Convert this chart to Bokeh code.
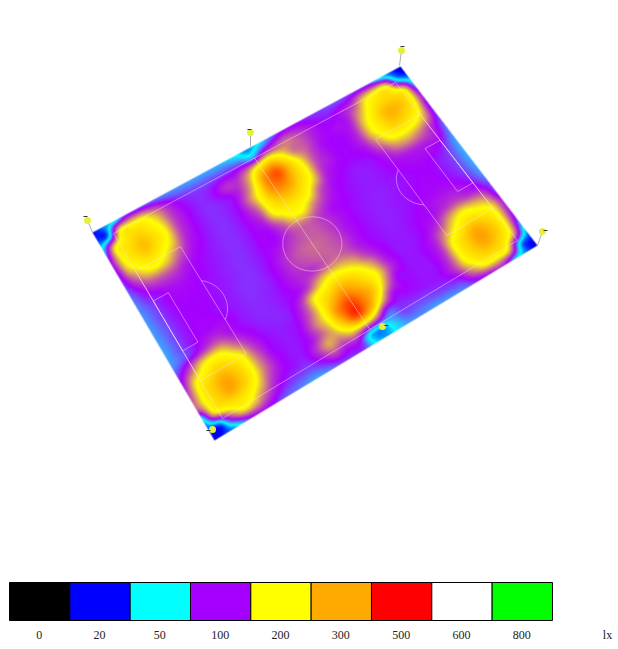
import numpy as np
from bokeh.plotting import figure
from bokeh.models import Range1d
from bokeh.core.properties import value
from bokeh.embed import file_html
from bokeh.resources import INLINE

# Illuminance (lx); rows run across the pitch, columns along it
lux_00 = [20,35,50,90,88,82,76,72,70,68,68,66,62,50,35,50,75,95,100,95,90,88,85,88,90,85,50,28,14]
lux_01 = [30,50,200,208,200,160,120,98,90,88,88,90,92,92,80,120,135,145,130,112,100,97,108,125,180,205,205,70,28]
lux_02 = [70,195,228,252,228,190,130,105,95,92,100,118,120,165,240,275,215,150,135,112,102,105,110,160,212,245,245,205,70]
lux_03 = [100,200,240,275,240,200,130,105,95,91,94,102,130,200,340,400,280,195,135,108,100,102,118,185,235,285,275,222,105]
lux_04 = [95,185,220,238,215,180,122,103,95,91,94,104,150,225,330,350,270,205,130,110,100,102,120,185,228,265,245,205,95]
lux_05 = [90,140,185,200,180,140,110,100,94,91,94,104,135,215,270,280,240,190,120,104,100,100,110,155,205,215,205,170,90]
lux_06 = [82,105,130,135,130,112,102,97,93,91,94,102,120,195,225,225,205,140,108,100,96,96,100,120,155,165,150,120,85]
lux_07 = [75,92,100,108,108,103,99,96,93,91,94,101,105,140,190,195,150,118,103,98,95,95,98,105,112,115,113,108,75]
lux_08 = [72,85,97,102,102,100,98,95,92,91,95,101,102,120,140,140,122,105,101,97,95,95,97,100,103,104,102,92,68]
lux_09 = [70,84,95,100,100,99,97,95,92,91,95,102,112,125,135,135,122,108,100,96,94,94,96,98,100,100,95,86,66]
lux_10 = [70,82,94,100,100,99,97,94,91,91,96,106,122,135,142,138,125,108,100,96,94,95,97,99,101,100,95,85,66]
lux_11 = [68,82,94,100,101,99,97,94,91,92,96,106,120,130,138,138,128,110,100,96,94,95,97,100,102,102,97,87,68]
lux_12 = [68,82,95,102,105,105,99,94,92,93,97,105,115,120,135,145,135,112,100,96,94,96,99,104,108,110,106,94,72]
lux_13 = [72,85,100,120,130,112,100,95,92,93,97,103,125,170,195,190,170,130,105,97,95,97,101,105,120,130,120,110,85]
lux_14 = [90,130,180,200,190,145,112,98,94,93,98,125,195,225,260,250,215,170,115,98,95,97,105,125,170,195,180,155,90]
lux_15 = [110,190,225,250,232,195,130,103,96,95,102,135,205,280,340,300,245,195,125,100,96,100,115,165,210,240,225,195,110]
lux_16 = [130,210,260,300,265,210,145,105,97,96,106,150,210,340,430,350,270,170,105,98,96,100,120,200,250,300,265,205,105]
lux_17 = [135,210,260,305,265,210,145,108,97,96,106,140,190,300,440,330,205,115,102,98,96,99,125,205,260,310,270,205,85]
lux_18 = [50,185,225,240,222,180,125,103,97,96,120,165,155,195,210,175,97,94,95,96,96,100,125,195,240,265,240,175,50]
lux_19 = [30,40,130,195,180,135,105,92,88,87,100,125,110,110,58,50,65,85,85,85,88,90,100,150,200,205,190,55,25]
lux_20 = [14,25,42,85,105,100,85,78,72,68,75,85,90,90,50,38,55,70,72,70,70,72,78,95,105,115,65,35,14]

legend_lux = [0, 20, 50, 100, 200, 300, 500, 600, 800]
legend_rgb = [(0,0,0),(0,0,255),(0,255,255),(165,0,255),(255,255,0),(255,170,0),(255,0,0),(255,255,255),(0,255,0)]
unit_label = "lx"

# Luminaire poles: foot of pole, lamp head
pole_foot_x = [92, 250, 399, 537]
pole_foot_y = [232, 146, 65, 245]
lamp_x = [87, 250, 401, 542, 212, 382]
lamp_y = [220, 132, 50, 231, 429, 326]
tip_x = [85, 249, 402, 545, 208, 386]
tip_y = [216, 129, 46, 230, 430, 325]

LUX = np.array([lux_00,lux_01,lux_02,lux_03,lux_04,lux_05,lux_06,lux_07,lux_08,lux_09,lux_10,
                lux_11,lux_12,lux_13,lux_14,lux_15,lux_16,lux_17,lux_18,lux_19,lux_20], dtype=float)

L, T, R, B = (92.0,232.0), (400.0,66.0), (537.0,245.0), (214.0,440.0)
PL, PT, PR, PB = (113.0,233.0), (395.0,82.0), (517.0,240.0), (222.0,418.0)
W, H = 618, 649

def quad_map(c, u, v):
    a, b, d, e = [np.array(k) for k in c]
    u = np.asarray(u, float)[..., None]; v = np.asarray(v, float)[..., None]
    return (1-u)*(1-v)*a + u*(1-v)*b + u*v*d + (1-u)*v*e

def catmull(p0, p1, p2, p3, t):
    return 0.5*((2*p1) + (-p0+p2)*t + (2*p0-5*p1+4*p2-p3)*t**2 + (-p0+3*p1-3*p2+p3)*t**3)

def shade(fu, fv):
    """Shade the read grid at fractional grid positions."""
    nr, nc = LUX.shape
    i = np.clip(np.floor(fu).astype(int), 0, nc-2); s = fu - i
    j = np.clip(np.floor(fv).astype(int), 0, nr-2); t = fv - j
    rows = []
    for dj in (-1, 0, 1, 2):
        jj = np.clip(j+dj, 0, nr-1)
        cols = [LUX[jj, np.clip(i+di, 0, nc-1)] for di in (-1, 0, 1, 2)]
        rows.append(catmull(cols[0], cols[1], cols[2], cols[3], s))
    return np.clip(catmull(rows[0], rows[1], rows[2], rows[3], t), 0, 800)

p = figure(width=W, height=H, x_range=Range1d(0, W), y_range=Range1d(H, 0),
           output_backend="svg", toolbar_location=None, min_border=0)
p.axis.visible = False
p.grid.visible = False
p.outline_line_color = None
p.background_fill_color = "white"

# Raster over the pitch: invert the corner map for every pixel, then colour by lux
x0, x1, y0, y1 = 85, 545, 60, 446
gx, gy = np.meshgrid(np.arange(x0, x1)+0.5, np.arange(y0, y1)+0.5)
u, v = np.full(gx.shape, 0.5), np.full(gx.shape, 0.5)
a, b, d, e = [np.array(k) for k in (L, T, R, B)]
for _ in range(12):
    q = quad_map((L,T,R,B), u, v)
    du = (1-v)[..., None]*(b-a) + v[..., None]*(d-e)
    dv = (1-u)[..., None]*(e-a) + u[..., None]*(d-b)
    rx, ry = gx-q[...,0], gy-q[...,1]
    det = du[...,0]*dv[...,1]-du[...,1]*dv[...,0]
    u = u + (rx*dv[...,1]-ry*dv[...,0])/det
    v = v + (du[...,0]*ry-du[...,1]*rx)/det
nr, nc = LUX.shape
val = shade(np.clip(u,0,1)*(nc-1), np.clip(v,0,1)*(nr-1))
rgba = np.zeros(gx.shape+(4,), dtype=np.uint8)
for k in range(3):
    rgba[...,k] = np.round(np.interp(val, legend_lux, [c[k] for c in legend_rgb])).astype(np.uint8)
du_px = np.minimum(u, 1-u)*340.0
dv_px = np.minimum(v, 1-v)*235.0
rgba[...,3] = (255*np.clip(np.minimum(du_px, dv_px)+0.5, 0, 1)).astype(np.uint8)
img = np.frombuffer(rgba.tobytes(), dtype=np.uint32).reshape(gx.shape)
p.image_rgba(image=[img], x=x0, y=y0, dw=x1-x0, dh=y1-y0)

# pitch markings, laid out in metres
LEN, WID = 105.0, 68.0
def m(pts):
    pts = np.array(pts, float)
    q = quad_map((PL,PT,PR,PB), pts[:,0]/LEN, pts[:,1]/WID)
    return q[:,0].tolist(), q[:,1].tolist()
def rect(x0, x1, y0, y1):
    return [(x0,y0),(x1,y0),(x1,y1),(x0,y1),(x0,y0)]
lines = [rect(0,LEN,0,WID), [(LEN/2,0),(LEN/2,WID)]]
for mirror in (False, True):
    f = (lambda x: LEN-x) if mirror else (lambda x: x)
    lines.append(rect(f(0),f(16.5),13.84,54.16))
    lines.append(rect(f(0),f(5.5),24.84,43.16))
    ang = np.linspace(-np.arccos(5.5/9.15), np.arccos(5.5/9.15), 30)
    lines.append([(f(11+9.15*np.cos(t)), 34+9.15*np.sin(t)) for t in ang])
ang = np.linspace(0, 2*np.pi, 60)
lines.append([(LEN/2+9.15*np.cos(t), 34+9.15*np.sin(t)) for t in ang])
mapped = [m(l) for l in lines]
p.multi_line([a_ for a_,_ in mapped], [b_ for _,b_ in mapped], line_color="#ffe0f0", line_alpha=0.6, line_width=0.8)

# luminaires
p.segment(pole_foot_x, pole_foot_y, lamp_x[:4], lamp_y[:4], line_color="#888888", line_width=0.7)
p.scatter(lamp_x, lamp_y, size=7, marker="circle", fill_color="#e6f03c", line_color=None)
p.scatter(tip_x, tip_y, size=4, marker="dash", line_color="#333333", line_width=1.2)

# legend
sw_left, sw_w, sw_top, sw_bot = 9.0, 60.33, 582.0, 620.0
lefts = [sw_left + k*sw_w for k in range(len(legend_lux))]
rights = [a_ + sw_w for a_ in lefts]
p.quad(left=lefts, right=rights, top=[sw_top]*9, bottom=[sw_bot]*9,
       fill_color=["#%02x%02x%02x" % c for c in legend_rgb], line_color="black", line_width=1)
p.text([(a_+b_)/2 - 0.5 for a_,b_ in zip(lefts,rights)], [634]*9, text=[str(v_) for v_ in legend_lux],
       text_font=value("Liberation Serif"), text_font_size="12px", text_color="#222222",
       text_align="center", text_baseline="middle")
p.text([607], [634], text=[unit_label], text_font=value("Liberation Serif"), text_font_size="12px",
       text_color="#222222", text_align="center", text_baseline="middle")

open("out.html", "w").write(file_html(p, INLINE))
